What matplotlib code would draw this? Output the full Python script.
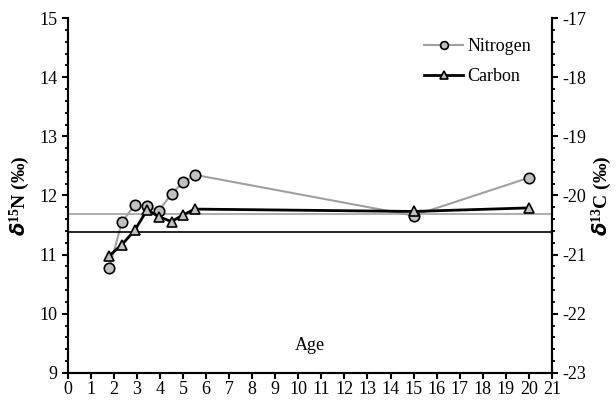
import matplotlib.pyplot as plt
from matplotlib.ticker import MultipleLocator

plt.rcParams['font.family'] = ['Liberation Serif', 'DejaVu Serif']
plt.rcParams['mathtext.fontset'] = 'custom'
plt.rcParams['mathtext.rm'] = 'Liberation Serif'
plt.rcParams['mathtext.it'] = 'Liberation Serif:italic'
plt.rcParams['mathtext.bf'] = 'Liberation Serif:bold'
plt.rcParams['axes.unicode_minus'] = False

# data
age = [1.8, 2.35, 2.9, 3.45, 3.95, 4.5, 5.0, 5.5, 15, 20]
nitrogen = [10.77, 11.55, 11.84, 11.82, 11.74, 12.03, 12.22, 12.35, 11.66, 12.30]
carbon = [-21.02, -20.83, -20.59, -20.24, -20.36, -20.44, -20.33, -20.23, -20.27, -20.21]
n_ref = 11.68   # grey reference line, left axis
c_ref = -20.61  # black reference line, right axis

fig = plt.figure(figsize=(6.16, 4.01), dpi=100)
ax = fig.add_axes([0.110, 0.070, 0.786, 0.885])
ax2 = ax.twinx()

ax.axhline(n_ref, color='#b0b0b0', lw=1.5, zorder=1)
ax2.axhline(c_ref, color='black', lw=1.2, zorder=1)

ln1, = ax.plot(age, nitrogen, color='#a0a0a0', lw=1.5, marker='o', ms=7.5,
               mfc='#c0c0c0', mec='black', mew=1.2, label='Nitrogen', zorder=3)
ln2, = ax2.plot(age, carbon, color='black', lw=2, marker='^', ms=7.5,
                mfc='#c0c0c0', mec='black', mew=1.2, label='Carbon', zorder=3)

ax.set_xlim(0, 21)
ax.set_ylim(9, 15)
ax2.set_ylim(-23, -17)
ax.xaxis.set_major_locator(MultipleLocator(1))
ax.yaxis.set_major_locator(MultipleLocator(1))
ax.yaxis.set_minor_locator(MultipleLocator(0.2))
ax2.yaxis.set_major_locator(MultipleLocator(1))
ax2.yaxis.set_minor_locator(MultipleLocator(0.2))

for a in (ax, ax2):
    a.spines['top'].set_visible(False)
    for s in a.spines.values():
        s.set_linewidth(1.5)
    a.tick_params(which='major', length=4, width=1.5, labelsize=13)
    a.tick_params(which='minor', length=2.5, width=1.3)
ax.tick_params(axis='x', pad=2)

ax.set_ylabel(r'$\mathbfit{\delta}^{\mathbf{15}}$N (‰)', fontsize=14, fontweight='bold')
ax.yaxis.set_label_coords(-0.073, 0.5)
ax2.set_ylabel(r'$\mathbfit{\delta}^{\mathbf{13}}$C (‰)', fontsize=14, fontweight='bold')
ax2.yaxis.set_label_coords(1.078, 0.5)
ax.text(10.5, 9.47, 'Age', ha='center', va='center', fontsize=13)

ax2.legend([ln1, ln2], ['Nitrogen', 'Carbon'], loc='upper right',
           bbox_to_anchor=(0.99, 0.99), frameon=False, fontsize=13,
           handlelength=2.2, handletextpad=0.2, labelspacing=0.75,
           markerscale=0.75)

fig.savefig('out.png', dpi=100)
